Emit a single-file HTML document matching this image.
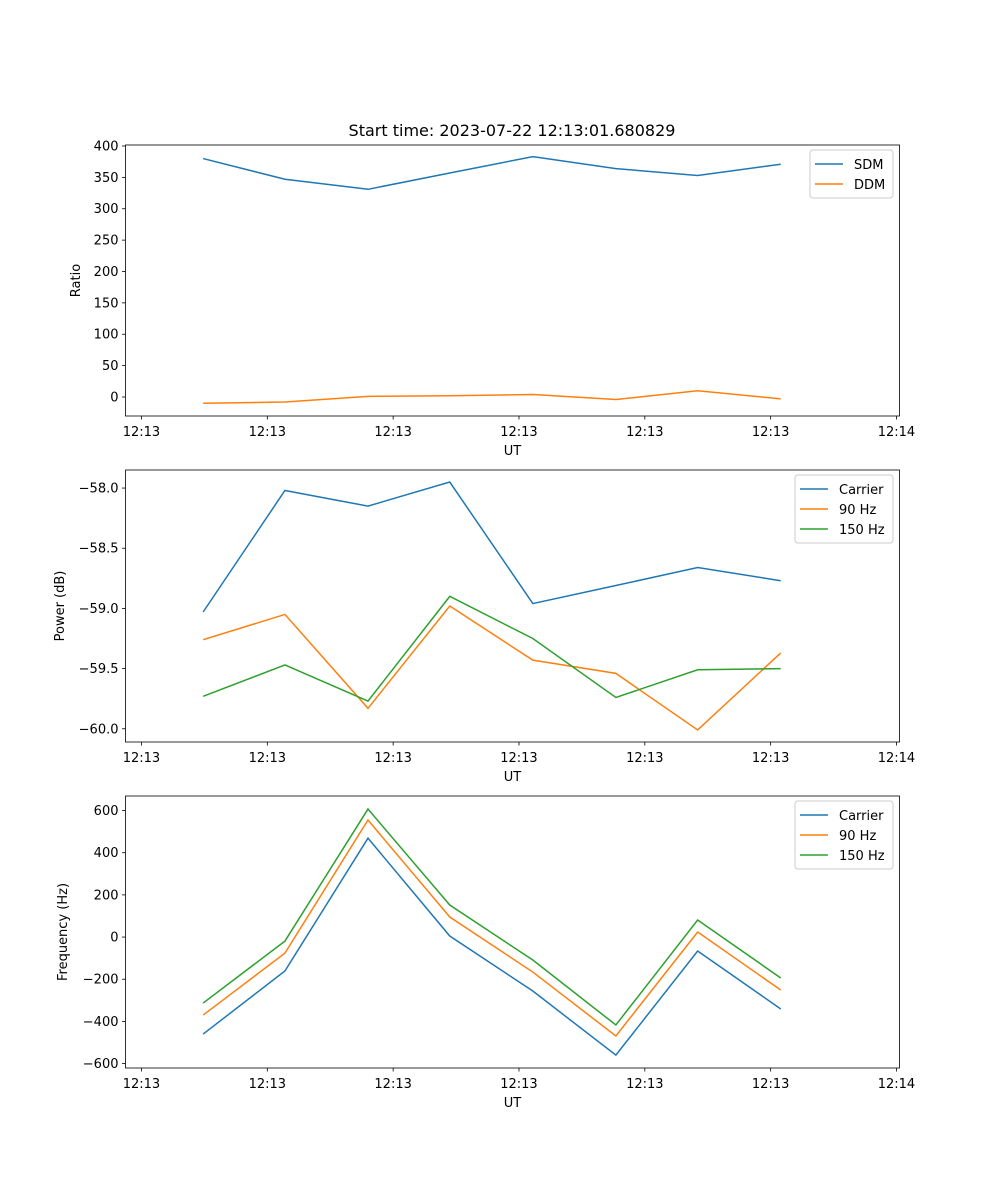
<!DOCTYPE html>
<html><head><meta charset="utf-8"><style>
html,body{margin:0;padding:0;background:#fff;}
svg{display:block;font-family:"DejaVu Sans","Liberation Sans",sans-serif;}
</style></head><body>
<svg id="fig" width="1000" height="1200" viewBox="0 0 1000 1200">
<rect width="1000" height="1200" fill="#fff"/>
<text x="512" y="136" font-size="16" text-anchor="middle">Start time: 2023-07-22 12:13:01.680829</text>
</svg>
<script>
const xPos = [0.49, 1.14, 1.80, 2.45, 3.11, 3.77, 4.42, 5.08];
const xTickLabels = ["12:13","12:13","12:13","12:13","12:13","12:13","12:14"];
const sdm = [380, 347, 331, 357, 383, 364, 353, 371];
const ddm = [-10, -8, 1, 2, 4, -4, 10, -3];
const powCarrier = [-59.03, -58.02, -58.15, -57.95, -58.96, -58.81, -58.66, -58.77];
const pow90 = [-59.26, -59.05, -59.83, -58.98, -59.43, -59.54, -60.01, -59.37];
const pow150 = [-59.73, -59.47, -59.77, -58.90, -59.25, -59.74, -59.51, -59.50];
const freqCarrier = [-460, -161, 469, 5, -256, -560, -66, -341];
const freq90 = [-370, -76, 555, 95, -166, -469, 24, -251];
const freq150 = [-313, -19, 607, 152, -109, -417, 81, -194];
const ratioTicks = [0,50,100,150,200,250,300,350,400];
const powTicks = [-60.0,-59.5,-59.0,-58.5,-58.0];
const freqTicks = [-600,-400,-200,0,200,400,600];

const NS="http://www.w3.org/2000/svg";
const svg=document.getElementById('fig');
function mk(tag,attrs,parent){const e=document.createElementNS(NS,tag);for(const k in attrs)e.setAttribute(k,attrs[k]);(parent||svg).appendChild(e);return e;}
const L=125.5,R=899.5,X0=-0.127,X1=6.024;
function sx(v){return L+(v-X0)/(X1-X0)*(R-L);}
const C=['#1f77b4','#ff7f0e','#2ca02c'];

function panel(id,top,bot,ymin,ymax,ticks,fmt,ylabel,series,names,legend){
  const g=mk('g',{});
  
  
  const sy=v=>bot-(v-ymin)/(ymax-ymin)*(bot-top);
  ticks.forEach(t=>{const y=sy(t);
    const ln=mk('line',{x1:L-3.5,x2:L,y1:y,y2:y,stroke:'#000','stroke-width':0.8},g);
    
    const tx=mk('text',{x:L-7,y:y+4.5,'font-size':13,'text-anchor':'end'},g);tx.textContent=fmt(t);
    });
  xTickLabels.forEach((s,i)=>{const x=sx(i);
    mk('line',{x1:x,x2:x,y1:bot,y2:bot+3.5,stroke:'#000','stroke-width':0.8},g);
    const tx=mk('text',{x:x,y:bot+20,'font-size':13,'text-anchor':'middle'},g);tx.textContent=s;
    });
  series.forEach((d,k)=>{const p=mk('polyline',{points:d.map((v,i)=>sx(xPos[i])+','+sy(v)).join(' '),fill:'none',stroke:C[k],'stroke-width':1.5},g);
    
    });
  const fr=mk('rect',{x:L,y:top,width:R-L,height:bot-top,fill:'none',stroke:'#000','stroke-width':0.8},g);
  
  const xl=mk('text',{x:(L+R)/2,y:bot+39,'font-size':13,'text-anchor':'middle'},g);xl.textContent='UT';
  
  const yl=mk('text',{x:0,y:0,'font-size':13,'text-anchor':'middle',transform:`translate(${legend.ylx},${(top+bot)/2}) rotate(-90)`},g);yl.textContent=ylabel;
  
  const lg=mk('g',{},g);
  
  mk('rect',{x:legend.x,y:top+5,width:893-legend.x,height:names.length*20+8,rx:3,fill:'#fff','fill-opacity':0.8,stroke:'#ccc'},lg);
  names.forEach((n,k)=>{const y=top+19+k*20;
    mk('line',{x1:legend.x+5,x2:legend.x+33,y1:y,y2:y,stroke:C[k],'stroke-width':1.5},lg);
    const t=mk('text',{x:legend.x+44,y:y+5,'font-size':13},lg);t.textContent=n;
    });
}
const minus=s=>s.replace('-','\u2212');
panel('ratio',145,416,-30.3,401.6,ratioTicks,t=>minus(String(t)),'Ratio',[sdm,ddm],['SDM','DDM'],{x:810,ylx:80});
panel('power',470,742,-60.11,-57.85,powTicks,t=>minus(t.toFixed(1)),'Power (dB)',[powCarrier,pow90,pow150],['Carrier','90 Hz','150 Hz'],{x:795,ylx:64});
panel('frequency',796,1068,-621,669,freqTicks,t=>minus(String(t)),'Frequency (Hz)',[freqCarrier,freq90,freq150],['Carrier','90 Hz','150 Hz'],{x:795,ylx:67});
</script>
</body></html>
